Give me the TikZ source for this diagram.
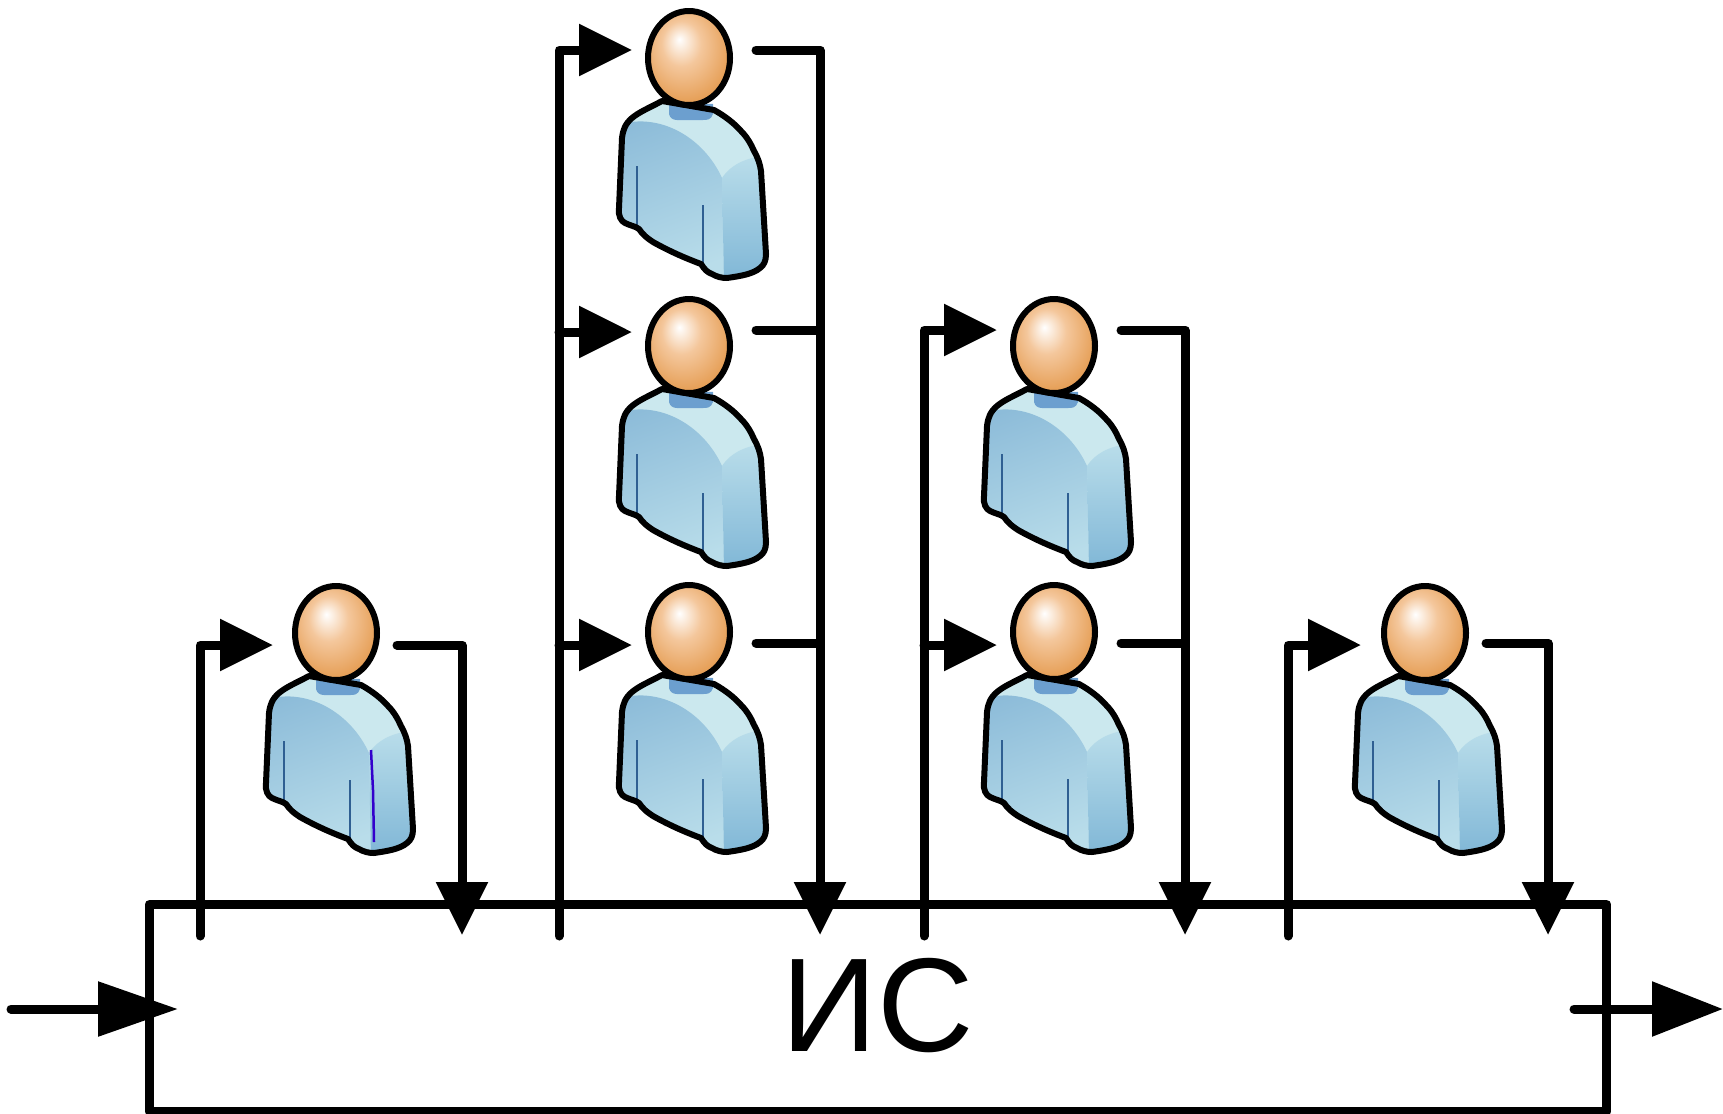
\documentclass[tikz,border=0pt]{standalone}
\usepackage{fontspec}
\setmainfont{Liberation Sans}
\usetikzlibrary{arrows.meta,shapes.geometric}
\definecolor{skinOut}{HTML}{E49A4E}
\definecolor{skinMid}{HTML}{F4C79C}
\definecolor{shirtLight}{HTML}{CBE8EE}
\definecolor{shirtDark}{HTML}{8DBCD9}
\definecolor{shirtPale}{HTML}{B9DDEA}
\definecolor{shirtSide}{HTML}{7FB6D6}
\definecolor{shirtNeck}{HTML}{6C9FCF}
\definecolor{shirtSeam}{HTML}{2F5F92}
\pgfdeclareradialshading{myHead}{\pgfpoint{-6bp}{10bp}}{color(0bp)=(white);color(12bp)=(skinMid);color(30bp)=(skinOut);color(50bp)=(skinOut)}
\tikzset{
	wire/.style={line width=.18cm, line cap=round, line join=round},
	flow/.style={wire, -{Triangle[length=1.06cm,width=1cm]}},
	bigflow/.style={wire, -{Triangle[length=1.6cm,width=1.06cm]}},
	sinkflow/.style={wire, -{Triangle[length=1.42cm,width=1.06cm]}},
	isbox/.style={draw, line width=.18cm, line join=round, minimum width=29.16cm, minimum height=4.14cm, inner sep=0pt, font=\fontsize{76}{80}\selectfont},
	outline/.style={line width=.12cm, line join=round},
}
\newcommand{\myBodyPath}{
	(-27,43) .. controls (-40,50) and (-50,54) .. (-57,60)
	.. controls (-64,66) and (-66,72) .. (-67,80)
	-- (-70,150) .. controls (-71,158) and (-68,163) .. (-64,165)
	.. controls (-58,168) and (-54,168) .. (-50,171)
	.. controls (-46,177) and (-42,180) .. (-36,184)
	.. controls (-20,193) and (-4,200) .. (12,206)
	.. controls (16,212) and (18,214) .. (23,216)
	.. controls (28,219) and (33,220) .. (38,220)
	.. controls (52,218) and (64,216) .. (71,210)
	.. controls (75,207) and (77,203) .. (77,196)
	-- (72,113) .. controls (71,106) and (69,100) .. (65,93)
	.. controls (62,86) and (58,79) .. (52,73)
	.. controls (46,66) and (36,58) .. (25,52) -- cycle
}
\newcommand{\myPerson}[3]{
	\begin{scope}[shift={(#2,#3)}]
		\fill[shirtLight] \myBodyPath;
		\begin{scope}
			\clip \myBodyPath;
			\shade[top color=shirtDark, bottom color=shirtPale, shading angle=20]
				(-75,68) .. controls (-30,52) and (15,80) .. (33,120) -- (35,225) -- (-80,225) -- cycle;
			\shade[top color=shirtPale, bottom color=shirtSide]
				(33,120) .. controls (42,106) and (60,98) .. (80,98) -- (80,225) -- (35,225) -- cycle;
		\end{scope}
		\fill[shirtNeck] (-20,44) -- (24,46) -- (24,56) .. controls (22,62) and (18,62) .. (14,62) -- (-12,62) .. controls (-16,62) and (-19,60) .. (-20,56) -- cycle;
		\draw[shirtSeam, line width=.05cm] (-52,108) -- (-52,170);
		\draw[shirtSeam, line width=.05cm] (14,147) -- (14,207);
		\draw[outline] \myBodyPath;
		\shade[shading=myHead, draw=black, line width=.12cm] (0,0) ellipse [x radius=41, y radius=47];
		\node[ellipse, inner sep=0pt, minimum width=1.64cm, minimum height=1.88cm] (#1) at (0,0) {};
	\end{scope}
}
\begin{document}
\begin{tikzpicture}[x=.02cm, y=-.02cm]
	\useasboundingbox (0,0) rectangle (1723,1113);
	\node[isbox] (is) at (878,1008) {\raisebox{.12cm}{ИС}};

	\foreach \myName/\myX/\myY in {pa/336/633, pb/689/58, pc/689/346, pd/689/632, pe/1054/346, pf/1054/632, pg/1425/633}{
		\myPerson{\myName}{\myX}{\myY}
	}

	\draw[line width=.05cm, blue!60!violet] (371,750) -- (373,790) -- (374,842);

	\coordinate (busA) at (200,936);
	\coordinate (busB) at (559,936);
	\coordinate (busC) at (924,936);
	\coordinate (busD) at (1288,936);
	\coordinate (inA) at (273,645);
	\coordinate (inB) at (632,50);
	\coordinate (inC) at (632,332);
	\coordinate (inD) at (632,645);
	\coordinate (inE) at (997,330);
	\coordinate (inF) at (997,645);
	\coordinate (inG) at (1361,645);
	\coordinate (outA) at (397,645);
	\coordinate (outB) at (756,50);
	\coordinate (outC) at (756,330);
	\coordinate (outD) at (756,643);
	\coordinate (outE) at (1121,330);
	\coordinate (outF) at (1121,643);
	\coordinate (outG) at (1486,643);
	\coordinate (dropA) at (462,935);
	\coordinate (dropB) at (820,935);
	\coordinate (dropC) at (1185,935);
	\coordinate (dropD) at (1548,935);
	\coordinate (src) at (11,1009);
	\coordinate (srcEnd) at (178,1009);
	\coordinate (sinkStart) at (1574,1009);
	\coordinate (sink) at (1723,1009);

	\draw[flow] (busA) |- (inA);
	\draw[flow] (busB) |- (inB);
	\draw[flow] (busB |- inC) -- (inC);
	\draw[flow] (busB |- inD) -- (inD);
	\draw[flow] (busC) |- (inE);
	\draw[flow] (busC |- inF) -- (inF);
	\draw[flow] (busD) |- (inG);

	\draw[flow] (outA) -| (dropA);
	\draw[flow] (outB) -| (dropB);
	\draw[wire] (outC) -- (outC -| dropB);
	\draw[wire] (outD) -- (outD -| dropB);
	\draw[flow] (outE) -| (dropC);
	\draw[wire] (outF) -- (outF -| dropC);
	\draw[flow] (outG) -| (dropD);

	\draw[bigflow] (src) -- (srcEnd);
	\draw[sinkflow] (sinkStart) -- (sink);
\end{tikzpicture}
\end{document}
